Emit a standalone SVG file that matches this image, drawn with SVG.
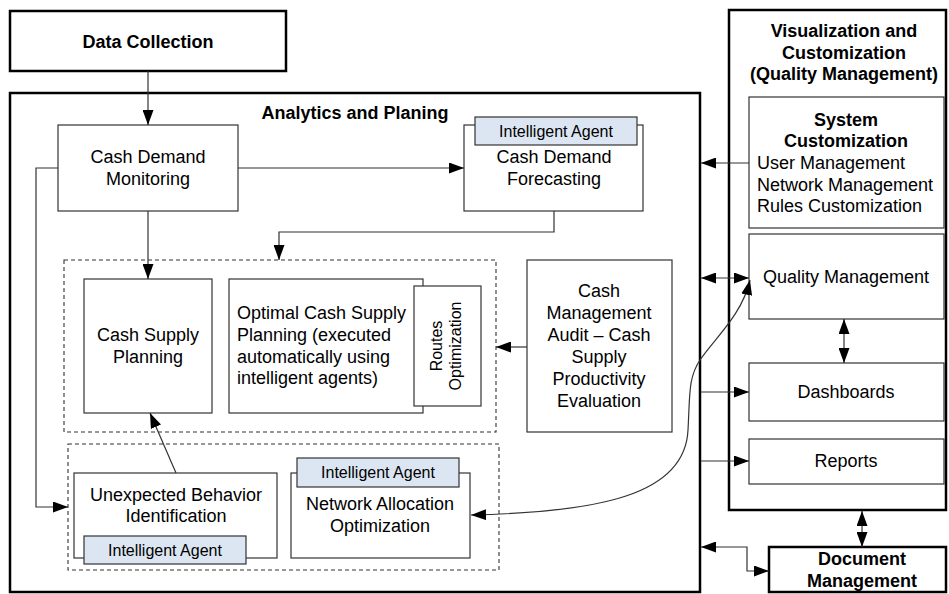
<svg xmlns="http://www.w3.org/2000/svg" width="949" height="594" viewBox="0 0 949 594">
<style>
text{font-family:"Liberation Sans",Arial,sans-serif;font-size:18px;fill:#000}
.b{font-weight:bold}
.m{text-anchor:middle}
.s{font-size:16px}
.thick{fill:#fff;stroke:#000;stroke-width:2.5}
.box{fill:#fff;stroke:#333;stroke-width:1.2}
.ia{fill:#dce6f2;stroke:#333;stroke-width:1.2}
.dash{fill:none;stroke:#333;stroke-width:1.1;stroke-dasharray:4 3}
.c{fill:none;stroke:#333;stroke-width:1.2}
</style>
<defs>
<marker id="ah" markerUnits="userSpaceOnUse" markerWidth="15" markerHeight="11" refX="15" refY="5.5" orient="auto-start-reverse">
<path d="M0,0 L15,5.5 L0,11 z" fill="#000"/>
</marker>
</defs>
<rect width="949" height="594" fill="#fff"/>

<g id="data-collection">
<rect class="thick" x="10" y="11" width="276" height="60"/>
<text class="b m" x="148" y="47.5">Data Collection</text>
</g>

<g id="analytics">
<rect class="thick" x="10" y="93" width="690" height="499"/>
<text class="b m" x="355" y="119">Analytics and Planing</text>
</g>

<g id="visualization">
<rect class="thick" x="729" y="10" width="217" height="500"/>
<text class="b m" x="844" y="37">Visualization and</text>
<text class="b m" x="844" y="58.5">Customization</text>
<text class="b m" x="844" y="80">(Quality Management)</text>
</g>

<g id="document-management">
<rect class="thick" x="769" y="547" width="177" height="45"/>
<text class="b m" x="862" y="565">Document</text>
<text class="b m" x="862" y="587">Management</text>
</g>

<g id="planning-group">
<rect class="dash" x="64" y="260" width="432" height="172"/>
</g>
<g id="behavior-group">
<rect class="dash" x="68" y="444" width="431" height="126"/>
</g>

<g id="cash-demand-monitoring">
<rect class="box" x="58" y="125" width="180" height="86"/>
<text class="m" x="148" y="163">Cash Demand</text>
<text class="m" x="148" y="185">Monitoring</text>
</g>

<g id="cash-demand-forecasting">
<rect class="box" x="464" y="125" width="179" height="86"/>
<rect class="ia" x="475" y="117" width="162" height="28"/>
<text class="m s" x="556" y="137">Intelligent Agent</text>
<text class="m" x="554" y="163">Cash Demand</text>
<text class="m" x="554" y="185">Forecasting</text>
</g>

<g id="cash-supply-planning">
<rect class="box" x="84" y="279" width="128" height="134"/>
<text class="m" x="148" y="341">Cash Supply</text>
<text class="m" x="148" y="363">Planning</text>
</g>

<g id="optimal-cash-supply">
<rect class="box" x="229" y="279" width="194" height="134"/>
<text x="237" y="319">Optimal Cash Supply</text>
<text x="237" y="341">Planning (executed</text>
<text x="237" y="362.5">automatically using</text>
<text x="237" y="384">intelligent agents)</text>
</g>

<g id="routes-optimization">
<rect class="box" x="414" y="286" width="67" height="120"/>
<text class="m s" transform="translate(442,346) rotate(-90)">Routes</text>
<text class="m s" transform="translate(461,346) rotate(-90)">Optimization</text>
</g>

<g id="cash-management-audit">
<rect class="box" x="527" y="260" width="145" height="172"/>
<text class="m" x="599" y="297">Cash</text>
<text class="m" x="599" y="319">Management</text>
<text class="m" x="599" y="341">Audit – Cash</text>
<text class="m" x="599" y="363">Supply</text>
<text class="m" x="599" y="385">Productivity</text>
<text class="m" x="599" y="407">Evaluation</text>
</g>

<g id="unexpected-behavior">
<rect class="box" x="74" y="473" width="203" height="85"/>
<text class="m" x="176" y="501">Unexpected Behavior</text>
<text class="m" x="176" y="522">Identification</text>
<rect class="ia" x="84" y="536" width="162" height="28"/>
<text class="m s" x="165" y="556">Intelligent Agent</text>
</g>

<g id="network-allocation">
<rect class="box" x="291" y="473" width="179" height="85"/>
<rect class="ia" x="297" y="458" width="162" height="29"/>
<text class="m s" x="378" y="478">Intelligent Agent</text>
<text class="m" x="380" y="510">Network Allocation</text>
<text class="m" x="380" y="532">Optimization</text>
</g>

<g id="system-customization">
<rect class="box" x="749" y="97" width="195" height="131"/>
<text class="b m" x="846" y="125.5">System</text>
<text class="b m" x="846" y="147">Customization</text>
<text x="757" y="169">User Management</text>
<text x="757" y="190.5">Network Management</text>
<text x="757" y="212">Rules Customization</text>
</g>

<g id="quality-management">
<rect class="box" x="749" y="234" width="195" height="85"/>
<text class="m" x="846" y="283">Quality Management</text>
</g>

<g id="dashboards">
<rect class="box" x="749" y="363" width="195" height="58"/>
<text class="m" x="846" y="398">Dashboards</text>
</g>

<g id="reports">
<rect class="box" x="749" y="439" width="195" height="45"/>
<text class="m" x="846" y="467">Reports</text>
</g>

<g id="connectors">
<path class="c" d="M148,71 V125" marker-end="url(#ah)"/>
<path class="c" d="M238,168 H464" marker-end="url(#ah)"/>
<path class="c" d="M58,168 H36 V507 H68" marker-end="url(#ah)"/>
<path class="c" d="M148,211 V279" marker-end="url(#ah)"/>
<path class="c" d="M554,211 V232 H279 V260" marker-end="url(#ah)"/>
<path class="c" d="M527,347 H496" marker-end="url(#ah)"/>
<path class="c" d="M176,473 L150,413" marker-end="url(#ah)"/>
<path class="c" d="M749,163 H701" marker-end="url(#ah)"/>
<path class="c" d="M701,278 H749" marker-start="url(#ah)" marker-end="url(#ah)"/>
<path class="c" d="M701,392 H749" marker-end="url(#ah)"/>
<path class="c" d="M701,461 H749" marker-end="url(#ah)"/>
<path class="c" d="M844,319 V363" marker-start="url(#ah)" marker-end="url(#ah)"/>
<path class="c" d="M862,511 V547" marker-start="url(#ah)" marker-end="url(#ah)"/>
<path class="c" d="M701,547 H747 V571 H769" marker-start="url(#ah)" marker-end="url(#ah)"/>
<path class="c" d="M471,515 C600,512 685,495 688,430 C690,395 688,378 700,360 C715,338 742,315 750,280" marker-start="url(#ah)" marker-end="url(#ah)"/>
</g>
</svg>
